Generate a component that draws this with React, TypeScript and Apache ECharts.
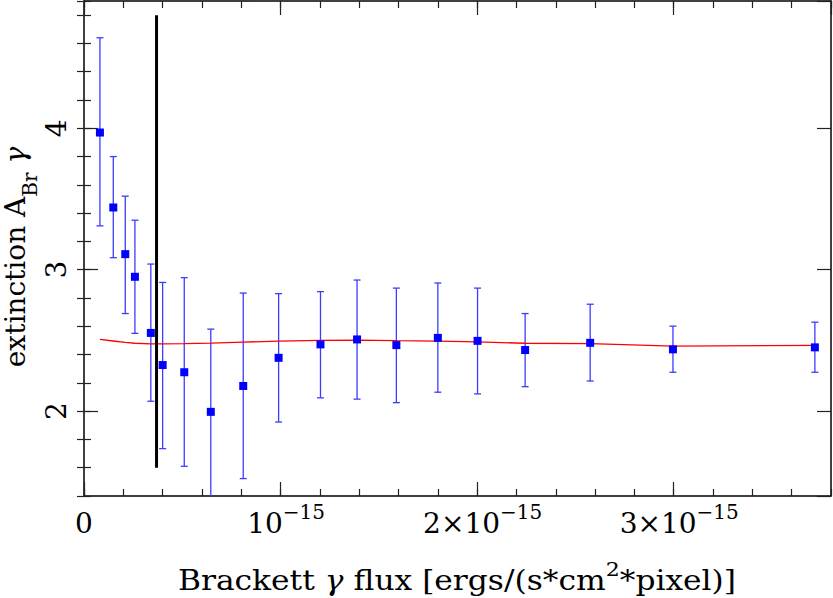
import React, { useEffect, useRef } from "react";
import * as echarts from "echarts";

// Brackett gamma flux, in units of 1e-15 ergs/(s*cm^2*pixel)
const flux = [0.081, 0.149, 0.21, 0.259, 0.34, 0.40, 0.51, 0.645, 0.81, 0.99, 1.203, 1.389, 1.589, 1.800, 2.002, 2.244, 2.575, 2.996, 3.718];
const extinction = [3.97, 3.44, 3.11, 2.95, 2.553, 2.326, 2.275, 1.995, 2.178, 2.377, 2.472, 2.507, 2.467, 2.518, 2.497, 2.432, 2.483, 2.437, 2.451];
const errHigh = [4.64, 3.80, 3.52, 3.35, 3.04, 2.91, 2.944, 2.58, 2.835, 2.831, 2.845, 2.927, 2.870, 2.906, 2.870, 2.690, 2.756, 2.601, 2.629];
const errLow = [3.31, 3.085, 2.69, 2.55, 2.07, 1.735, 1.61, 1.30, 1.523, 1.923, 2.094, 2.085, 2.06, 2.134, 2.122, 2.173, 2.213, 2.275, 2.275];
const fitExtinction = [2.507, 2.496, 2.486, 2.48, 2.476, 2.476, 2.478, 2.481, 2.488, 2.495, 2.500, 2.502, 2.498, 2.495, 2.490, 2.48, 2.478, 2.460, 2.465];
const cutoffFlux = 0.369;
const cutoffRange = [1.6, 4.8];

const xTickValues = [0, 1, 2, 3];
const xTickLabels = ["{b|0}", "{p| }{b|10}{s|\u221215}", "{p| }{b|2\u00d710}{s|\u221215}", "{p| }{b|3\u00d710}{s|\u221215}"];
const yTickValues = [2, 3, 4];
const yTickLabels = ["2", "3", "4"];
const xTitle = "{b|Brackett }{g|\u03b3}{b| flux [ergs/(s*cm}{s|2}{b|*pixel)]}";
const yTitleMain = "extinction A";
const yTitleSub = "Br";
const yTitleGamma = "\u03b3";

const X_MIN = 0, X_MAX = 3.8, Y_MIN = 1.4, Y_MAX = 4.9;
const FONT = "DejaVu Serif";
const FS = 28;
const FS_SMALL = 20;

const richStyles = {
  b: { fontFamily: FONT, fontSize: FS, lineHeight: 42, color: "#000" },
  s: { fontFamily: FONT, fontSize: FS_SMALL, lineHeight: 20, verticalAlign: "top", color: "#000" },
  p: { fontFamily: FONT, fontSize: 10, width: 11, lineHeight: 42 },
  g: { fontFamily: FONT, fontSize: FS, lineHeight: 42, fontStyle: "italic", color: "#000" },
};

const titleRich = {
  b: { fontFamily: FONT, fontSize: 27, lineHeight: 42, color: "#000" },
  s: { fontFamily: FONT, fontSize: 19, lineHeight: 20, verticalAlign: "top", color: "#000" },
  g: { fontFamily: FONT, fontSize: 27, lineHeight: 42, fontStyle: "italic", color: "#000" },
};

const frameLine = { color: "#000", width: 1.5 };
const tickLine = { color: "#222", width: 1.2 };

function near(v: number, arr: number[]) {
  return arr.findIndex((a) => Math.abs(a - v) < 1e-6);
}

function measure(text: string, size: number, italic = false) {
  const ctx = document.createElement("canvas").getContext("2d");
  if (!ctx) return text.length * size * 0.6;
  ctx.font = `${italic ? "italic " : ""}${size}px "${FONT}"`;
  return ctx.measureText(text).width;
}

export default function App() {
  const ref = useRef<HTMLDivElement>(null);
  useEffect(() => {
    if (!ref.current) return;
    const chart = echarts.init(ref.current, null, { renderer: "svg" });
    const xBase = { type: "value", min: X_MIN, max: X_MAX, splitLine: { show: false }, gridIndex: 0 };
    const yBase = { type: "value", min: Y_MIN, max: Y_MAX, splitLine: { show: false }, gridIndex: 0 };

    // y title laid out in a rotated group
    const w1 = measure(yTitleMain, FS);
    const w2 = measure(yTitleSub, FS_SMALL);
    const wsp = measure(" ", FS);
    const w3 = measure(yTitleGamma, FS, true);
    const W = w1 + w2 + wsp + w3;
    const x0 = -W / 2;
    const tStyle = (text: string, size: number, italic = false) => ({
      text,
      fontFamily: FONT,
      fontSize: size,
      fontStyle: italic ? "italic" : "normal",
      fill: "#000",
      align: "left",
      verticalAlign: "middle",
      textAlign: "left",
      textVerticalAlign: "middle",
    });

    const option: any = {
      animation: false,
      backgroundColor: "#fff",
      grid: { left: 84, right: 2, top: 1, bottom: 102, containLabel: false, outerBoundsMode: "none" },
      graphic: [
        {
          type: "text",
          x: 457,
          y: 560,
          scaleX: 1.16,
          style: {
            text: xTitle,
            rich: titleRich,
            align: "center",
            verticalAlign: "top",
            textAlign: "center",
            textVerticalAlign: "top",
            fill: "#000",
          },
        },
        {
          type: "group",
          x: 15,
          y: 257,
          rotation: Math.PI / 2,
          children: [
            { type: "text", x: x0, y: 0, style: tStyle(yTitleMain, FS) },
            { type: "text", x: x0 + w1, y: 15, style: tStyle(yTitleSub, FS_SMALL) },
            { type: "text", x: x0 + w1 + w2 + wsp, y: 0, style: tStyle(yTitleGamma, FS, true) },
          ],
        },
      ],
      xAxis: [
        {
          ...xBase,
          position: "bottom",
          interval: 1,
          axisLine: { show: true, onZero: false, lineStyle: frameLine },
          axisTick: { show: true, inside: true, length: 14, lineStyle: tickLine },
          axisLabel: {
            show: true,
            margin: 6,
            showMaxLabel: false,
            formatter: (v: number) => {
              const i = near(v, xTickValues);
              return i >= 0 ? xTickLabels[i] : "";
            },
            rich: richStyles,
          },
        },
        {
          ...xBase,
          position: "bottom",
          interval: 0.2,
          axisLine: { show: false },
          axisTick: { show: true, inside: true, length: 7, lineStyle: tickLine },
          axisLabel: { show: false },
        },
        {
          ...xBase,
          position: "top",
          interval: 1,
          axisLine: { show: true, onZero: false, lineStyle: frameLine },
          axisTick: { show: true, inside: true, length: 14, lineStyle: tickLine },
          axisLabel: { show: false },
        },
        {
          ...xBase,
          position: "top",
          interval: 0.2,
          axisLine: { show: false },
          axisTick: { show: true, inside: true, length: 7, lineStyle: tickLine },
          axisLabel: { show: false },
        },
      ],
      yAxis: [
        {
          ...yBase,
          position: "left",
          splitNumber: 3,
          minInterval: 1,
          maxInterval: 1,
          axisLine: { show: true, onZero: false, lineStyle: frameLine },
          axisTick: { show: true, inside: true, length: 14, lineStyle: tickLine },
          axisLabel: {
            show: true,
            rotate: 90,
            margin: 14,
            showMinLabel: false,
            showMaxLabel: false,
            fontFamily: FONT,
            fontSize: FS,
            color: "#000",
            formatter: (v: number) => {
              const i = near(v, yTickValues);
              return i >= 0 ? yTickLabels[i] : "";
            },
          },
        },
        {
          ...yBase,
          position: "left",
          interval: 0.2,
          axisLine: { show: false },
          axisTick: { show: true, inside: true, length: 7, lineStyle: tickLine },
          axisLabel: { show: false },
        },
        {
          ...yBase,
          position: "right",
          splitNumber: 3,
          minInterval: 1,
          maxInterval: 1,
          axisLine: { show: true, onZero: false, lineStyle: frameLine },
          axisTick: { show: true, inside: true, length: 14, lineStyle: tickLine },
          axisLabel: { show: false },
        },
        {
          ...yBase,
          position: "right",
          interval: 0.2,
          axisLine: { show: false },
          axisTick: { show: true, inside: true, length: 7, lineStyle: tickLine },
          axisLabel: { show: false },
        },
      ],
      series: [
        {
          type: "custom",
          name: "error",
          xAxisIndex: 0,
          yAxisIndex: 0,
          z: 2,
          data: flux.map((f, i) => [f, errLow[i], errHigh[i]]),
          encode: { x: 0, y: [1, 2] },
          renderItem: (params: any, api: any) => {
            const x = api.value(0);
            const lo = api.coord([x, api.value(1)]);
            const hi = api.coord([x, api.value(2)]);
            const cs = params.coordSys;
            const top = cs.y;
            const bottom = cs.y + cs.height;
            const style = { stroke: "#3c3cff", lineWidth: 1.3 };
            const yLo = Math.min(lo[1], bottom);
            const yHi = Math.max(hi[1], top);
            const children: any[] = [
              { type: "line", shape: { x1: lo[0], y1: yLo, x2: hi[0], y2: yHi }, style },
            ];
            if (hi[1] >= top) children.push({ type: "line", shape: { x1: hi[0] - 3.5, y1: hi[1], x2: hi[0] + 3.5, y2: hi[1] }, style });
            if (lo[1] <= bottom) children.push({ type: "line", shape: { x1: lo[0] - 3.5, y1: lo[1], x2: lo[0] + 3.5, y2: lo[1] }, style });
            return { type: "group", children };
          },
        },
        {
          type: "line",
          name: "fit",
          xAxisIndex: 0,
          yAxisIndex: 0,
          z: 3,
          data: flux.map((f, i) => [f, fitExtinction[i]]),
          symbol: "none",
          lineStyle: { color: "#ff0000", width: 1.3 },
        },
        {
          type: "line",
          name: "cutoff",
          xAxisIndex: 0,
          yAxisIndex: 0,
          z: 4,
          data: cutoffRange.map((y) => [cutoffFlux, y]),
          symbol: "none",
          lineStyle: { color: "#000", width: 3 },
        },
        {
          type: "scatter",
          name: "extinction",
          xAxisIndex: 0,
          yAxisIndex: 0,
          z: 5,
          data: flux.map((f, i) => [f, extinction[i]]),
          symbol: "rect",
          symbolSize: 8,
          itemStyle: { color: "#0000ff", opacity: 1 },
        },
      ],
    };
    chart.setOption(option);
    return () => chart.dispose();
  }, []);
  return <div ref={ref} style={{ position: "fixed", left: 0, top: 0, width: 833, height: 598, background: "#fff" }} />;
}
